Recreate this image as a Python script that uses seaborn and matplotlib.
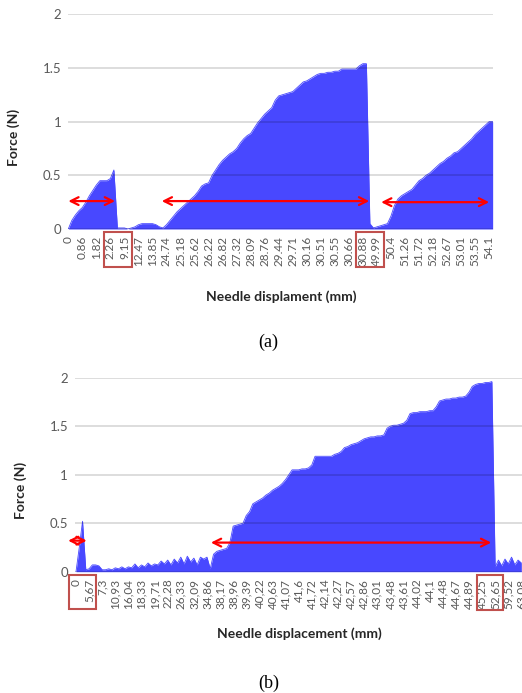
import numpy as np
import pandas as pd
import matplotlib
matplotlib.use("Agg")
import matplotlib.pyplot as plt
import matplotlib.patches as patches
import seaborn as sns

# ---------------------------------------------------------
# Datos (4 muestras por etiqueta del eje)
# ---------------------------------------------------------
labels_a = ["0", "0.86", "1.82", "2.26", "9.15", "12.47", "13.85", "24.74", "25.18",
            "25.62", "26.22", "26.82", "27.32", "28.09", "28.76", "29.44", "29.71",
            "30.16", "30.51", "30.55", "30.66", "30.88", "49.99", "50.4", "51.26",
            "51.72", "52.18", "52.67", "53.01", "53.55", "54.1"]

force_a = [0.00, 0.08, 0.13, 0.17, 0.20, 0.25, 0.31, 0.36, 0.41, 0.45, 0.45, 0.45,
           0.47, 0.55, 0.01, 0.01, 0.01, 0.00, 0.01, 0.02, 0.04, 0.05, 0.05, 0.05,
           0.05, 0.04, 0.02, 0.01, 0.04, 0.08, 0.12, 0.16, 0.19, 0.22, 0.25, 0.28,
           0.31, 0.35, 0.40, 0.42, 0.43, 0.50, 0.55, 0.60, 0.64, 0.67, 0.70, 0.72,
           0.75, 0.80, 0.84, 0.87, 0.89, 0.94, 0.99, 1.03, 1.07, 1.10, 1.13, 1.20,
           1.24, 1.25, 1.26, 1.27, 1.28, 1.31, 1.34, 1.37, 1.38, 1.40, 1.42, 1.44,
           1.45, 1.45, 1.46, 1.46, 1.47, 1.47, 1.49, 1.49, 1.49, 1.49, 1.49, 1.52,
           1.54, 1.54, 0.05, 0.01, 0.02, 0.03, 0.04, 0.05, 0.12, 0.22, 0.28, 0.31,
           0.33, 0.35, 0.37, 0.41, 0.45, 0.47, 0.50, 0.52, 0.55, 0.58, 0.61, 0.63,
           0.66, 0.68, 0.71, 0.72, 0.75, 0.78, 0.81, 0.84, 0.88, 0.91, 0.94, 0.97,
           1.00, 1.00]

labels_b = ["0", "5,67", "7,3", "10,93", "16,04", "18,33", "19,71", "22,28", "26,33",
            "32,09", "34,86", "38,17", "38,96", "39,39", "40,22", "40,63", "41,07",
            "41,6", "41,72", "42,14", "42,27", "42,57", "42,86", "43,01", "43,48",
            "43,61", "44,02", "44,1", "44,48", "44,67", "44,89", "45,25", "52,65",
            "59,52", "63,08"]

force_b = [0.00, 0.25, 0.52, 0.02, 0.03, 0.07, 0.07, 0.06, 0.02, 0.02, 0.03, 0.02,
           0.04, 0.03, 0.05, 0.03, 0.05, 0.04, 0.08, 0.04, 0.07, 0.05, 0.09, 0.06,
           0.08, 0.07, 0.11, 0.08, 0.12, 0.07, 0.13, 0.09, 0.15, 0.08, 0.16, 0.10,
           0.14, 0.07, 0.15, 0.13, 0.15, 0.03, 0.18, 0.21, 0.22, 0.23, 0.24, 0.30,
           0.47, 0.48, 0.49, 0.50, 0.58, 0.62, 0.70, 0.72, 0.74, 0.76, 0.79, 0.81,
           0.84, 0.86, 0.88, 0.91, 0.95, 1.00, 1.05, 1.05, 1.05, 1.06, 1.06, 1.07,
           1.10, 1.19, 1.19, 1.19, 1.19, 1.19, 1.19, 1.21, 1.22, 1.24, 1.28, 1.29,
           1.31, 1.32, 1.33, 1.35, 1.37, 1.38, 1.39, 1.39, 1.40, 1.40, 1.41, 1.48,
           1.50, 1.51, 1.51, 1.52, 1.53, 1.56, 1.63, 1.64, 1.64, 1.65, 1.65, 1.65,
           1.66, 1.66, 1.70, 1.76, 1.77, 1.78, 1.78, 1.79, 1.79, 1.80, 1.80, 1.81,
           1.85, 1.91, 1.93, 1.94, 1.94, 1.95, 1.95, 1.96, 0.05, 0.12, 0.06, 0.13,
           0.08, 0.15, 0.07, 0.12, 0.09]

# flechas: (inicio, fin, altura) en unidades de etiqueta
arrows_a = [(0.0, 3.33, 0.26), (6.66, 21.45, 0.26), (22.3, 30.0, 0.25)]
arrows_b = [(-0.6, 0.82, 0.32), (10.3, 31.7, 0.30)]

STEP = 4
BLUE = "#4848FF"
GRAY = "#595959"

sns.set_theme(style="white")
plt.rcParams["font.family"] = ["Lato", "DejaVu Sans"]

fig = plt.figure(figsize=(5.22, 6.93), dpi=100)
W, H = 522, 693


def px_axes(x0, y0, x1, y1):
    return fig.add_axes([x0 / W, 1 - y1 / H, (x1 - x0) / W, (y1 - y0) / H])


def draw_panel(ax, force, labels, arrows, xlim):
    df = pd.DataFrame({"pos": np.arange(len(force)), "force": force})
    ax.fill_between(df["pos"], df["force"], 0, color=BLUE, lw=0, zorder=1)
    sns.lineplot(data=df, x="pos", y="force", ax=ax, color=BLUE, lw=0.6, zorder=2)
    for y in [0, 0.5, 1, 1.5, 2]:
        ax.axhline(y, color="black", alpha=0.15, lw=1.3, zorder=3)
    ax.set_xlim(*xlim)
    ax.set_ylim(0, 2)
    ax.set_yticks([0, 0.5, 1, 1.5, 2])
    ax.set_yticklabels(["0", "0.5", "1", "1.5", "2"], fontsize=9.5, color=GRAY)
    ax.set_xticks(np.arange(len(labels)) * STEP)
    ax.set_xticklabels(labels, rotation=90, fontsize=8.5, color=GRAY)
    ax.tick_params(axis="both", length=0, pad=5)
    ax.set_xlabel("")
    ax.set_ylabel("")
    for s in ax.spines.values():
        s.set_visible(False)
    for x0, x1, y in arrows:
        ax.annotate("", xy=(x1 * STEP, y), xytext=(x0 * STEP, y),
                    arrowprops=dict(arrowstyle="<->", color="red", lw=1.6,
                                    mutation_scale=14, shrinkA=0, shrinkB=0),
                    annotation_clip=False, zorder=5)


ax_a = px_axes(68.3, 14.3, 493, 229)
draw_panel(ax_a, force_a, labels_a, arrows_a, (0, 121.1))

ax_b = px_axes(75, 377.7, 522, 571.7)
draw_panel(ax_b, force_b, labels_b, arrows_b, (-0.3, 136.2))

# titulos de ejes
fig.text(13.5 / W, 1 - 137 / H, "Force (N)", rotation=90, ha="center", va="center",
         fontsize=10, fontweight="bold", color="#262626")
fig.text(20.5 / W, 1 - 490 / H, "Force (N)", rotation=90, ha="center", va="center",
         fontsize=10, fontweight="bold", color="#262626")
fig.text(281 / W, 1 - 297 / H, "Needle displament (mm)", ha="center", va="center",
         fontsize=10, fontweight="bold", color="#262626")
fig.text(299 / W, 1 - 634 / H, "Needle displacement (mm)", ha="center", va="center",
         fontsize=10, fontweight="bold", color="#262626")

fig.text(268 / W, 1 - 342 / H, "(a)", ha="center", va="center", fontsize=13,
         family="Liberation Serif", color="black")
fig.text(269 / W, 1 - 683 / H, "(b)", ha="center", va="center", fontsize=13,
         family="Liberation Serif", color="black")

# recuadros rojos sobre las etiquetas
boxes = [(104.3, 232.3, 132.3, 266.7), (356, 232.3, 384, 266.7),
         (69, 575, 95.7, 609), (476.5, 575, 503, 610)]
for x0, y0, x1, y1 in boxes:
    fig.patches.append(patches.Rectangle((x0 / W, 1 - y1 / H), (x1 - x0) / W, (y1 - y0) / H,
                                         transform=fig.transFigure, fill=False,
                                         edgecolor="#C0504D", lw=1.5))

fig.savefig("out.png", dpi=100)
